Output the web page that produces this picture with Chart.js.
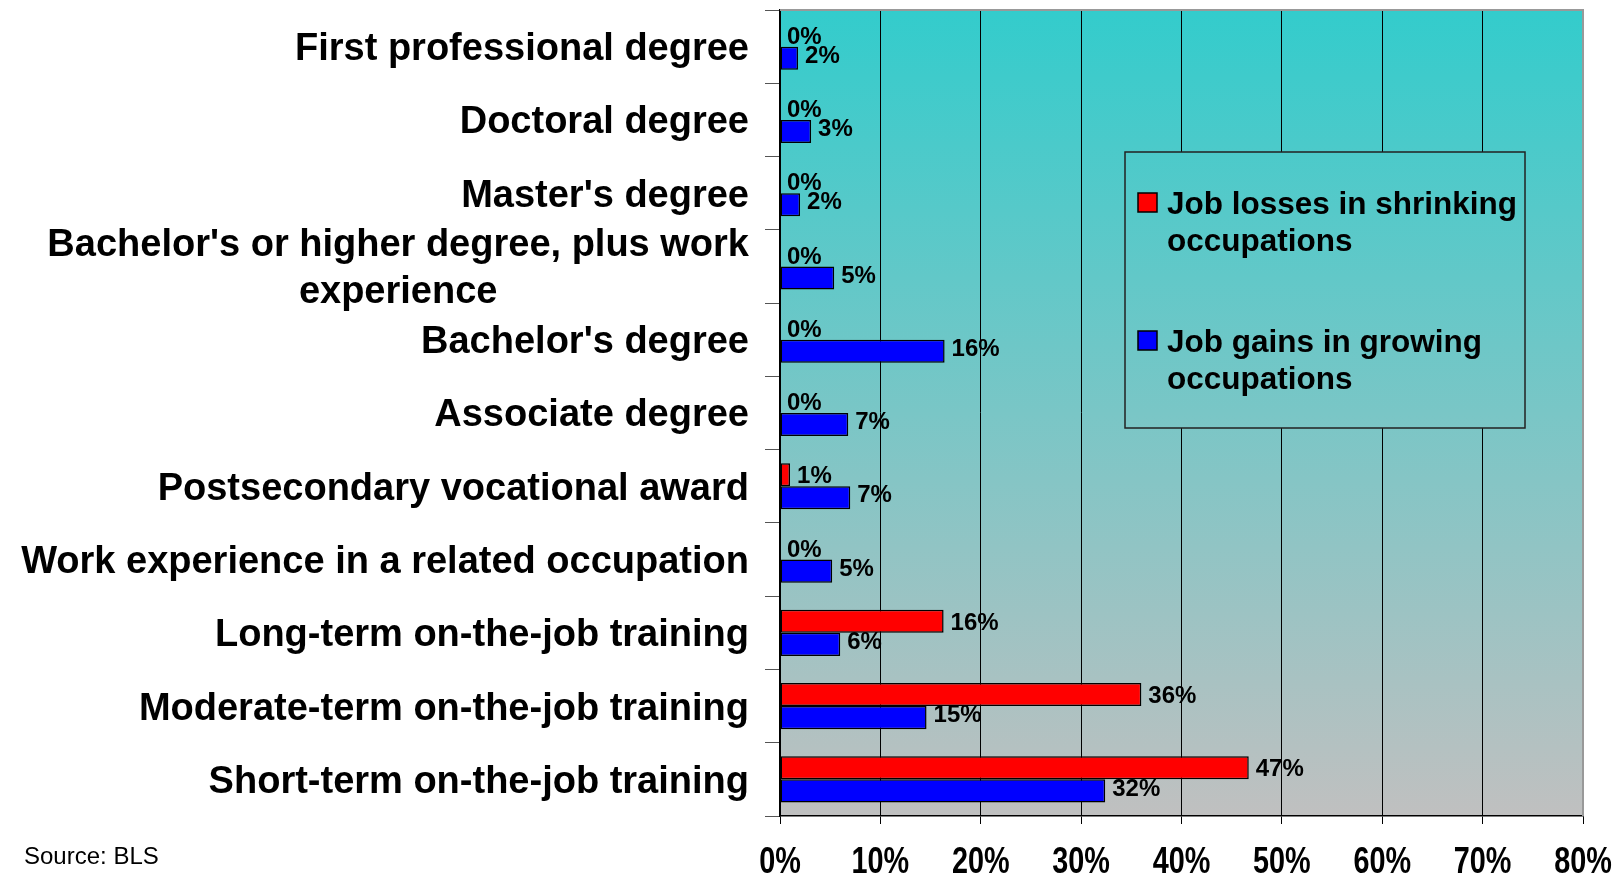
<!DOCTYPE html>
<html>
<head>
<meta charset="utf-8">
<script src="https://cdn.jsdelivr.net/npm/chart.js@4.4.1/dist/chart.umd.min.js"></script>
<style>
  body { margin: 0; background: #fff; }
  #wrap { position: relative; width: 1620px; height: 877px; }
  #src { position: absolute; left: 24px; top: 842px; font: 24px "Liberation Sans", Arial, sans-serif; color: #000; }
</style>
</head>
<body>
<div id="wrap">
  <canvas id="jobs" width="1620" height="877"></canvas>
  <div id="src">Source: BLS</div>
</div>
<script>
  const categories = [
    'First professional degree',
    'Doctoral degree',
    "Master's degree",
    ["Bachelor's or higher degree, plus work", 'experience'],
    "Bachelor's degree",
    'Associate degree',
    'Postsecondary vocational award',
    'Work experience in a related occupation',
    'Long-term on-the-job training',
    'Moderate-term on-the-job training',
    'Short-term on-the-job training'
  ];
  const losses = [0, 0, 0, 0, 0, 0, 1.0, 0, 16.3, 36.0, 46.7];
  const gains = [1.8, 3.1, 2.0, 5.4, 16.4, 6.8, 7.0, 5.2, 6.0, 14.6, 32.4];
  const lossLabel = ['Job losses in shrinking', 'occupations'];
  const gainLabel = ['Job gains in growing', 'occupations'];
  const xTicks = [0, 10, 20, 30, 40, 50, 60, 70, 80];

  const bold = (s) => 'bold ' + s + 'px "Liberation Sans", Arial, sans-serif';

  function plotGradient(ctx, area) {
    const g = ctx.createLinearGradient(0, area.top, 0, area.bottom);
    g.addColorStop(0, '#33CCCC');
    g.addColorStop(1, '#C0C0C0');
    return g;
  }

  const decor = {
    id: 'decor',
    beforeDraw(chart) {
      const { ctx, chartArea: a } = chart;
      ctx.save();
      ctx.fillStyle = plotGradient(ctx, a);
      ctx.fillRect(a.left, a.top, a.right - a.left, a.bottom - a.top);
      ctx.restore();
    },
    afterDatasetsDraw(chart) {
      const { ctx, chartArea: a } = chart;
      const y = chart.scales.y;
      const x = chart.scales.x;
      ctx.save();
      // top / right frame
      ctx.strokeStyle = '#999';
      ctx.lineWidth = 2;
      ctx.beginPath();
      ctx.moveTo(a.left, a.top);
      ctx.lineTo(a.right, a.top);
      ctx.lineTo(a.right, a.bottom);
      ctx.stroke();

      // value labels
      ctx.fillStyle = '#000';
      ctx.font = bold(24);
      ctx.textBaseline = 'middle';
      ctx.textAlign = 'left';
      chart.data.datasets.forEach((ds, di) => {
        const dy = di === 0 ? 2 : -2;
        chart.getDatasetMeta(di).data.forEach((bar, i) => {
          ctx.fillText(Math.round(ds.data[i]) + '%', bar.x + 7, bar.y + dy);
        });
      });

      // x tick labels (narrow bold)
      ctx.font = bold(36);
      ctx.textAlign = 'center';
      xTicks.forEach(v => {
        ctx.save();
        ctx.translate(x.getPixelForValue(v), a.bottom + 47);
        ctx.scale(0.8, 1);
        ctx.fillText(v + '%', 0, 0);
        ctx.restore();
      });

      // category labels
      ctx.font = bold(38);
      ctx.textAlign = 'center';
      const right = a.left - 31;
      categories.forEach((c, i) => {
        const lines = Array.isArray(c) ? c : [c];
        const w = Math.max(...lines.map(l => ctx.measureText(l).width));
        const cx = right - w / 2;
        const cy = y.getPixelForValue(i) + 3;
        const lh = 47;
        lines.forEach((l, k) => {
          ctx.fillText(l, cx, cy + (k - (lines.length - 1) / 2) * lh);
        });
      });

      // legend box
      const bx = 1125, by = 152, bw = 400, bh = 276;
      ctx.fillStyle = plotGradient(ctx, a);
      ctx.fillRect(bx, by, bw, bh);
      ctx.strokeStyle = '#222';
      ctx.lineWidth = 1.5;
      ctx.strokeRect(bx, by, bw, bh);
      const entries = [
        { color: chart.data.datasets[0].backgroundColor, text: lossLabel, top: 193 },
        { color: chart.data.datasets[1].backgroundColor, text: gainLabel, top: 331 }
      ];
      ctx.font = bold(31.5);
      ctx.textAlign = 'left';
      ctx.textBaseline = 'alphabetic';
      entries.forEach(e => {
        ctx.fillStyle = e.color;
        ctx.fillRect(1138, e.top, 19, 19);
        ctx.strokeStyle = '#000';
        ctx.lineWidth = 1.5;
        ctx.strokeRect(1138, e.top, 19, 19);
        ctx.fillStyle = '#000';
        e.text.forEach((t, k) => ctx.fillText(t, 1167, e.top + 21 + k * 37));
      });
      ctx.restore();
    }
  };

  new Chart(document.getElementById('jobs'), {
    type: 'bar',
    data: {
      labels: categories,
      datasets: [{
        label: lossLabel.join(' '),
        data: losses,
        backgroundColor: '#FF0000',
        borderColor: '#000',
        borderWidth: 1.5,
        borderSkipped: false,
        categoryPercentage: 0.63,
        barPercentage: 1.0
      }, {
        label: gainLabel.join(' '),
        data: gains,
        backgroundColor: '#0000FF',
        borderColor: '#000',
        borderWidth: 1.5,
        borderSkipped: false,
        categoryPercentage: 0.63,
        barPercentage: 1.0
      }]
    },
    options: {
      indexAxis: 'y',
      responsive: false,
      animation: false,
      layout: { padding: { top: 10, right: 37, left: 0, bottom: 0 } },
      plugins: { legend: { display: false }, tooltip: { enabled: false } },
      scales: {
        x: {
          min: 0,
          max: 80,
          afterBuildTicks(scale) { scale.ticks = xTicks.map(v => ({ value: v })); },
          afterFit(scale) { scale.height = 61; scale.paddingLeft = 0; scale.paddingRight = 0; },
          grid: {
            color: (c) => c.index === xTicks.length - 1 ? '#999' : '#000',
            lineWidth: 1,
            tickLength: 8,
            tickColor: '#000'
          },
          border: { color: '#000', width: 1.5 },
          ticks: { display: false }
        },
        y: {
          afterFit(scale) { scale.width = 780; },
          grid: { drawOnChartArea: false, tickLength: 15, color: '#555' },
          border: { color: '#000', width: 1.5 },
          ticks: { display: false }
        }
      }
    },
    plugins: [decor]
  });
</script>
</body>
</html>
